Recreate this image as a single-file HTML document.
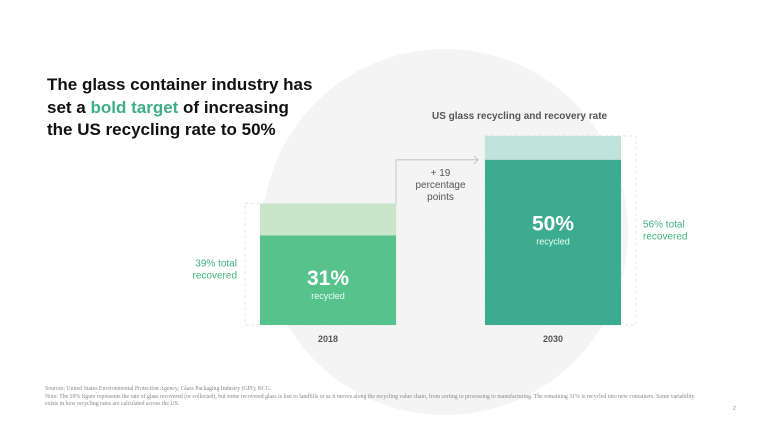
<!DOCTYPE html>
<html><head><meta charset="utf-8"><style>
body{margin:0;width:768px;height:432px;background:#fff;overflow:hidden;font-family:"Liberation Sans",sans-serif;position:relative}
.t{position:absolute}
</style></head><body>
<svg width="768" height="432" style="position:absolute;left:0;top:0">
<circle cx="445" cy="232" r="183" fill="#f4f4f4"/>
<g id="g"></g>
</svg>
<div class="t" style="left:47px;top:74px;font-size:17px;font-weight:bold;line-height:22.5px;color:#111">The glass container industry has<br>set a <span style="color:#3fae86">bold target</span> of increasing<br>the US recycling rate to 50%</div>
<div class="t" style="left:432px;top:111px;font-size:10px;font-weight:bold;color:#555">US glass recycling and recovery rate</div>
<div class="t" style="left:45px;top:386px;font-size:5.8px;line-height:7.5px;color:#888;font-family:'Liberation Serif',serif;width:660px">Sources: United States Environmental Protection Agency; Glass Packaging Industry (GPI); BCG.<br>Note: The 39% figure represents the rate of glass recovered (or collected), but some recovered glass is lost to landfills or as it moves along the recycling value chain, from sorting to processing to manufacturing. The remaining 31% is recycled into new containers. Some variability exists in how recycling rates are calculated across the US.</div>
<div class="t" style="left:733px;top:406px;font-size:5px;color:#888">2</div>
<script>
const categories=["2018","2030"];
const recycled=[31,50];
const recovered=[39,56];
const deltaLabel=["+ 19","percentage","points"];
const ns="http://www.w3.org/2000/svg";
const g=document.getElementById('g');
const base=325;
function y(v){return base-3.98*(v-8.5);}
const barX=[260,485],bw=136;
const recColor=["#57c28c","#3dab8f"],totColor=["#c9e6cb","#bfe3d8"];
function el(tag,attrs){const e=document.createElementNS(ns,tag);for(const k in attrs)e.setAttribute(k,attrs[k]);g.appendChild(e);return e;}
function txt(x,yy,s,size,fill,weight,anchor){const e=el('text',{x:x,y:yy,'font-size':size,fill:fill,'font-weight':weight||'normal','text-anchor':anchor||'middle','font-family':'Liberation Sans, sans-serif'});e.textContent=s;return e;}
categories.forEach((c,i)=>{
  const x=barX[i];
  const dx=i==0?x-15:x;
  const box=el('rect',{x:dx,y:y(recovered[i]),width:bw+15,height:base-y(recovered[i]),fill:'none',stroke:'#cfe8e0','stroke-dasharray':'3,3','stroke-width':0.8});
  
  
  const t=el('rect',{x:x,y:y(recovered[i]),width:bw,height:y(recycled[i])-y(recovered[i]),fill:totColor[i]});
  
  
  const r=el('rect',{x:x,y:y(recycled[i]),width:bw,height:base-y(recycled[i]),fill:recColor[i]});
  
  
  const cy=i==0?(y(recycled[i])+base)/2+5:(y(recycled[i])+base)/2-12;
  const v=txt(x+bw/2,cy,recycled[i]+'%',21,'#fff','bold');
  
  
  const l=txt(x+bw/2,cy+14,'recycled',9,'#eafff5');
  
  
  const xl=txt(x+bw/2,base+17,c,9,'#555','bold');
  
  
  const side=i==0?{x:237,a:'end',y:(y(recovered[i])+base)/2+2}:{x:643,a:'start',y:(y(recovered[i])+base)/2-3};
  const s1=txt(side.x,side.y,recovered[i]+'% total',10,'#3fb37f','normal',side.a);
  
  
  const s2=txt(side.x,side.y+12,'recovered',10,'#3fb37f','normal',side.a);
  
  
});
const ax=barX[0]+bw, ay1=y(recovered[0]), ay2=y(recycled[1]);
const arrow=el('path',{d:`M${ax},${ay1} V${ay2} H${barX[1]-7} M${barX[1]-11},${ay2-4} L${barX[1]-7},${ay2} L${barX[1]-11},${ay2+4}`,fill:'none',stroke:'#bbb','stroke-width':0.8});


deltaLabel.forEach((s,k)=>{
  const e=txt((ax+barX[1])/2,ay2+16+k*12,s,10,'#555');
  
  
});
</script>
</body></html>
